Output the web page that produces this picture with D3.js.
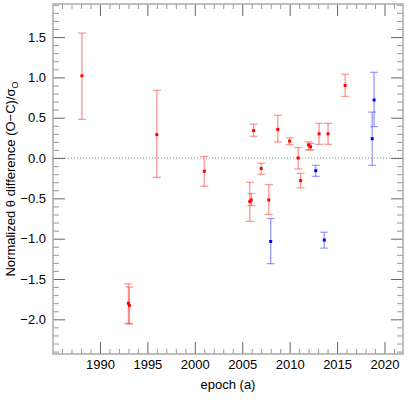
<!DOCTYPE html>
<html>
<head>
<meta charset="utf-8">
<script src="https://cdn.jsdelivr.net/npm/d3@7"></script>
<style>
body { margin: 0; background: #fff; }
text { font-family: "Liberation Sans", Arial, sans-serif; }
</style>
</head>
<body>
<div id="chart"></div>
<script>
var width = 407;
var height = 407;
var margin = {top: 4, right: 4, bottom: 53, left: 53};

// red series: epoch, value, lower and upper end of error bar
var redEpoch = [1988.1, 1993.0, 1993.1, 1996.0, 2001.0, 2005.8, 2005.95, 2006.2, 2007.0, 2007.8, 2008.75, 2010.0, 2010.9, 2011.15, 2012.0, 2012.2, 2013.1, 2014.05, 2015.85];
var redValue = [1.02, -1.80, -1.83, 0.29, -0.165, -0.54, -0.52, 0.34, -0.13, -0.52, 0.355, 0.21, 0.0, -0.28, 0.16, 0.14, 0.30, 0.30, 0.90];
var redLow = [0.48, -2.05, -2.06, -0.24, -0.35, -0.785, -0.59, 0.27, -0.20, -0.70, 0.20, 0.165, -0.135, -0.37, 0.10, 0.10, 0.17, 0.17, 0.765];
var redHigh = [1.55, -1.56, -1.60, 0.84, 0.02, -0.30, -0.44, 0.42, -0.065, -0.33, 0.53, 0.25, 0.13, -0.19, 0.20, 0.18, 0.43, 0.43, 1.04];

// blue series
var blueEpoch = [2008.0, 2012.75, 2013.65, 2018.7, 2018.9];
var blueValue = [-1.035, -0.157, -1.017, 0.24, 0.72];
var blueLow = [-1.31, -0.227, -1.117, -0.09, 0.39];
var blueHigh = [-0.75, -0.09, -0.92, 0.57, 1.063];

var xDomain = [1985.05, 2021.95];
var yDomain = [-2.43, 1.91];
var xMajor = [1990, 1995, 2000, 2005, 2010, 2015, 2020];
var yMajor = [-2.0, -1.5, -1.0, -0.5, 0.0, 0.5, 1.0, 1.5];

var svg = d3.select("#chart")
	.append("svg")
		.attr("width", width)
		.attr("height", height);

var x = d3.scaleLinear().domain(xDomain).range([margin.left, width - margin.right]);
var y = d3.scaleLinear().domain(yDomain).range([height - margin.bottom, margin.top]);

var xMinor = d3.range(1986, 2022, 1).filter(function (d) { return d % 5 != 0; });
var yMinor = d3.range(-24, 20, 1).map(function (d) { return d / 10; }).filter(function (d) { return Math.abs(d * 2 - Math.round(d * 2)) > 0.01; });

function fmt(d) { return d3.format(".1f")(d).replace("-", "\u2212"); }

function styleAxis(g, col) {
	g.select(".domain").remove();
	g.selectAll("line").attr("stroke", col).attr("stroke-width", 1);
	g.selectAll("text").style("font-size", "13px").attr("fill", "#000");
}

// minor ticks (every axis side)
svg.append("g").attr("transform", "translate(0," + y.range()[0] + ")")
	.call(d3.axisBottom(x).tickValues(xMinor).tickSize(-5).tickFormat(""))
	.call(styleAxis, "#999");
svg.append("g").attr("transform", "translate(0," + margin.top + ")")
	.call(d3.axisTop(x).tickValues(xMinor).tickSize(-5).tickFormat(""))
	.call(styleAxis, "#999");
svg.append("g").attr("transform", "translate(" + margin.left + ",0)")
	.call(d3.axisLeft(y).tickValues(yMinor).tickSize(-6).tickFormat(""))
	.call(styleAxis, "#999");
svg.append("g").attr("transform", "translate(" + x.range()[1] + ",0)")
	.call(d3.axisRight(y).tickValues(yMinor).tickSize(-6).tickFormat(""))
	.call(styleAxis, "#999");

// major ticks
svg.append("g").attr("transform", "translate(0," + y.range()[0] + ")")
	.call(d3.axisBottom(x).tickValues(xMajor).tickSize(-12).tickPadding(6).tickFormat(d3.format("d")))
	.call(styleAxis, "#666");
svg.append("g").attr("transform", "translate(0," + margin.top + ")")
	.call(d3.axisTop(x).tickValues(xMajor).tickSize(-12).tickFormat(""))
	.call(styleAxis, "#666");
svg.append("g").attr("transform", "translate(" + margin.left + ",0)")
	.call(d3.axisLeft(y).tickValues(yMajor).tickSize(-12).tickPadding(7).tickFormat(fmt))
	.call(styleAxis, "#666");
svg.append("g").attr("transform", "translate(" + x.range()[1] + ",0)")
	.call(d3.axisRight(y).tickValues(yMajor).tickSize(-12).tickFormat(""))
	.call(styleAxis, "#666");

// frame
svg.append("rect")
	.attr("x", margin.left)
	.attr("y", margin.top)
	.attr("width", x.range()[1] - margin.left)
	.attr("height", y.range()[0] - margin.top)
	.attr("fill", "none")
	.attr("stroke", "#aaa")
	.attr("stroke-width", 1.5);

// zero line
svg.append("line")
	.attr("x1", margin.left).attr("x2", x.range()[1])
	.attr("y1", y(0)).attr("y2", y(0))
	.attr("stroke", "#888")
	.attr("stroke-dasharray", "1,2");

function drawSeries(ep, val, lo, hi, barCol, ptCol) {
	var rows = ep.map(function (d, i) { return {e: d, v: val[i], lo: lo[i], hi: hi[i]}; });
	var g = svg.append("g");
	g.selectAll(".bar").data(rows).enter().append("line")
		.attr("x1", function (d) { return x(d.e); })
		.attr("x2", function (d) { return x(d.e); })
		.attr("y1", function (d) { return y(d.lo); })
		.attr("y2", function (d) { return y(d.hi); })
		.attr("stroke", barCol).attr("stroke-width", 1.3);
	g.selectAll(".capl").data(rows).enter().append("line")
		.attr("x1", function (d) { return x(d.e) - 4; })
		.attr("x2", function (d) { return x(d.e) + 4; })
		.attr("y1", function (d) { return y(d.lo); })
		.attr("y2", function (d) { return y(d.lo); })
		.attr("stroke", barCol).attr("stroke-width", 1.2);
	g.selectAll(".caph").data(rows).enter().append("line")
		.attr("x1", function (d) { return x(d.e) - 4; })
		.attr("x2", function (d) { return x(d.e) + 4; })
		.attr("y1", function (d) { return y(d.hi); })
		.attr("y2", function (d) { return y(d.hi); })
		.attr("stroke", barCol).attr("stroke-width", 1.2);
	g.selectAll(".pt").data(rows).enter().append("rect")
		.attr("x", function (d) { return x(d.e) - 1.5; })
		.attr("y", function (d) { return y(d.v) - 1.5; })
		.attr("width", 3).attr("height", 3)
		.attr("fill", ptCol);
}

drawSeries(redEpoch, redValue, redLow, redHigh, "rgba(255,60,60,0.55)", "#f00");
drawSeries(blueEpoch, blueValue, blueLow, blueHigh, "rgba(70,70,255,0.55)", "#00f");

// axis titles
svg.append("text")
	.attr("x", (margin.left + x.range()[1]) / 2)
	.attr("y", 389)
	.attr("text-anchor", "middle")
	.style("font-size", "13px")
	.text("epoch (a)");

var yt = svg.append("text")
	.attr("transform", "translate(15," + ((margin.top + y.range()[0]) / 2) + ") rotate(-90)")
	.attr("text-anchor", "middle")
	.style("font-size", "13px");
yt.append("tspan").text("Normalized \u03b8 difference (O\u2212C)/\u03c3");
yt.append("tspan").attr("dy", 3).style("font-size", "9px").text("O");
</script>
</body>
</html>
